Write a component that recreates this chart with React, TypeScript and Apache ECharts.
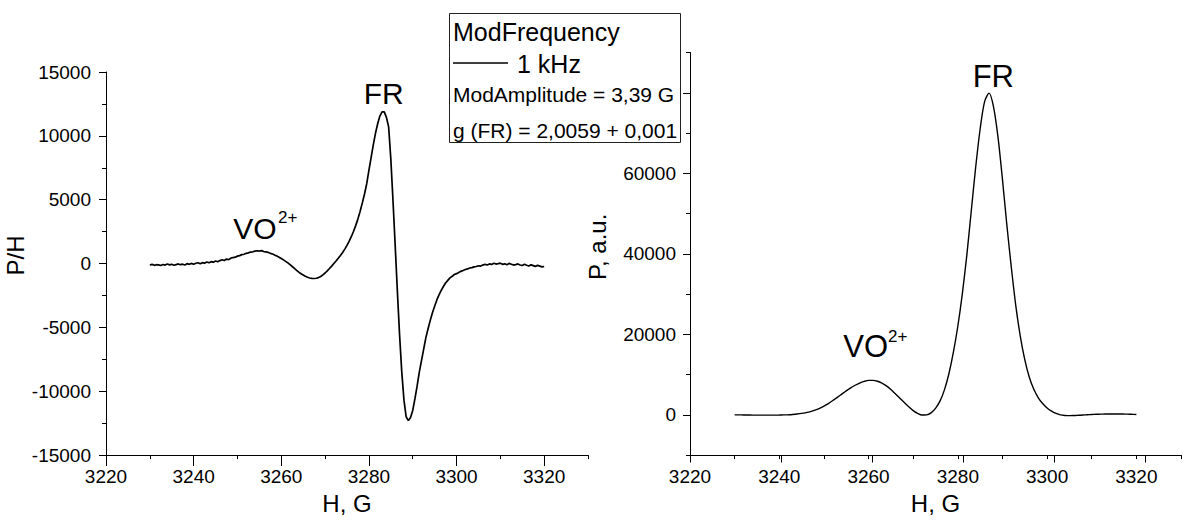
import React, { useEffect, useRef } from "react";
import * as echarts from "echarts";

const FONT = '"Liberation Sans", Arial, Helvetica, sans-serif';

// Field sampling (G)
const fieldMin = 3220;
const fieldMax = 3330;
const fieldMajorStep = 20;
const fieldMinorStep = 10;

// Left panel: first-derivative EPR signal P/H, sampled every 0.5 G from 3230 G
const derivStart = 3230;
const derivStep = 0.5;
const derivValues = [
  -110, -60, -140, -90, -100, -150, -70, -120, -40, -100,
  -60, -130, -80, -30, -90, -50, -110, -10, -60, 10,
  -50, 20, 60, -20, 70, 30, 120, 60, 150, 110,
  200, 140, 230, 300, 240, 350, 310, 420, 470, 500,
  580, 620, 700, 730, 800, 840, 900, 920, 970, 1000,
  980, 1010, 940, 920, 870, 800, 750, 660, 590, 500,
  400, 290, 170, 50, -90, -230, -380, -530, -670, -800,
  -900, -1000, -1070, -1130, -1160, -1170, -1150, -1100, -1010, -890,
  -740, -570, -390, -200, 0, 200, 410, 630, 870, 1130,
  1420, 1750, 2120, 2530, 2990, 3500, 4100, 4750, 5450, 6250,
  7300, 8300, 9300, 10200, 10950, 11550, 11880, 11880, 11450, 10700,
  8200, 4900, 1400, -2200, -5600, -8500, -10700, -12000, -12300, -12050,
  -11500, -10600, -9600, -8500, -7600, -6700, -5800, -5100, -4450, -3850,
  -3350, -2850, -2450, -2100, -1800, -1520, -1320, -1120, -1000, -860,
  -790, -700, -610, -540, -470, -420, -350, -320, -260, -230,
  -170, -200, -120, -60, -110, -30, -70, 20, -40, -10,
  30, -60, -20, -90, 10, -50, -120, -80, -30, -110,
  -150, -60, -130, -190, -100, -160, -220, -140, -200, -260,
  -230,
];

// Right panel: integrated absorption P (a.u.), sampled every 1 G from 3230 G
const absStart = 3230;
const absStep = 1;
const absValues = [
  0, -10, -30, -50, -60, -70, -80, -80, -80, -70,
  -50, -20, 30, 100, 200, 350, 550, 800, 1150, 1600,
  2150, 2800, 3550, 4350, 5150, 5950, 6700, 7350, 7900, 8300,
  8550, 8550, 8350, 7900, 7200, 6300, 5250, 4150, 3050, 2000,
  1050, 350, -50, 0, 500, 1600, 3400, 6200, 10200, 15500,
  22000, 30000, 39500, 50500, 61500, 71000, 77800, 79900, 76500, 69000,
  58500, 47000, 36500, 27000, 19500, 13700, 9400, 6400, 4300, 2800,
  1700, 900, 350, 0, -150, -200, -180, -120, -50, 20,
  80, 130, 170, 200, 220, 230, 220, 200, 170, 130,
  90,
];

// Axis ranges / ticks
const leftYMin = -15000;
const leftYMax = 15000;
const leftYStep = 5000;
const rightYMin = -10000;
const rightYMax = 90000;
const rightYMinorStep = 10000;
const rightYMajorStep = 20000;
const rightYLabelMax = 60000;

// Legend / annotation texts
const legendTitle = "ModFrequency";
const legendItem = "1 kHz";
const legendAmp = "ModAmplitude = 3,39 G";
const legendG = "g (FR) = 2,0059 + 0,001";

export default function App() {
  const ref = useRef<HTMLDivElement>(null);

  useEffect(() => {
    if (!ref.current) return;
    const chart = echarts.init(ref.current, null, { renderer: "svg" });

    const derivData = derivValues.map((v, i) => [derivStart + i * derivStep, v]);
    const absData = absValues.map((v, i) => [absStart + i * absStep, v]);

    const black = "#000";
    const axisLineStyle = { show: true, onZero: false, lineStyle: { color: black, width: 1 } };
    const labelStyle = { color: black, fontSize: 19, fontFamily: FONT };
    const nameStyle = { color: black, fontSize: 24, fontFamily: FONT };

    const hiddenAxis = (gridIndex: number) => ({
      gridIndex,
      type: "value",
      show: false,
      min: 0,
      max: 1,
    });

    const mainX = (gridIndex: number) => ({
      gridIndex,
      type: "value",
      min: fieldMin,
      max: fieldMax,
      interval: fieldMinorStep,
      axisLine: axisLineStyle,
      axisTick: { show: true, inside: false, length: 4, lineStyle: { color: black, width: 1 } },
      axisLabel: {
        ...labelStyle,
        margin: 12,
        formatter: (v: number) => (v % fieldMajorStep === 0 ? String(v) : ""),
      },
      splitLine: { show: false },
      name: "H, G",
      nameLocation: "middle",
      nameGap: 34,
      nameTextStyle: nameStyle,
    });

    const overlayX = (gridIndex: number) => ({
      gridIndex,
      type: "value",
      min: fieldMin,
      max: fieldMin + 5 * fieldMajorStep,
      interval: fieldMajorStep,
      axisLine: { show: false },
      axisTick: { show: true, inside: false, length: 7, lineStyle: { color: black, width: 1 } },
      axisLabel: { show: false },
      splitLine: { show: false },
    });

    const option = {
      animation: false,
      backgroundColor: "#fff",
      grid: [
        { left: 106, top: 72, width: 482, height: 387 },
        { left: 106, top: 72, width: 438.3, height: 387 },
        { left: 690, top: 52.5, width: 501, height: 403 },
        { left: 690, top: 52.5, width: 455.6, height: 403 },
        { left: 690, top: 92.8, width: 501, height: 322.4 },
      ],
      xAxis: [mainX(0), overlayX(1), mainX(2), overlayX(3), hiddenAxis(4)],
      yAxis: [
        {
          gridIndex: 0,
          type: "value",
          min: leftYMin,
          max: leftYMax,
          interval: leftYStep,
          axisLine: axisLineStyle,
          axisTick: { show: true, inside: false, length: 7, lineStyle: { color: black, width: 1 } },
          minorTick: { show: true, splitNumber: 2, length: 4, lineStyle: { color: black, width: 1 } },
          axisLabel: { ...labelStyle, margin: 15, formatter: (v: number) => String(v) },
          splitLine: { show: false },
          name: "P/H",
          nameLocation: "middle",
          nameGap: 68,
          nameTextStyle: { ...nameStyle, padding: [0, 0, 0, 16] },
        },
        hiddenAxis(1),
        {
          gridIndex: 2,
          type: "value",
          min: rightYMin,
          max: rightYMax,
          interval: rightYMinorStep,
          axisLine: axisLineStyle,
          axisTick: { show: true, inside: false, length: 4, lineStyle: { color: black, width: 1 } },
          axisLabel: {
            ...labelStyle,
            margin: 14,
            formatter: (v: number) =>
              v >= 0 && v <= rightYLabelMax && v % rightYMajorStep === 0 ? String(v) : "",
          },
          splitLine: { show: false },
          name: "P, a.u.",
          nameLocation: "middle",
          nameGap: 81,
          nameTextStyle: { ...nameStyle, padding: [0, 0, 0, 14] },
        },
        hiddenAxis(3),
        {
          gridIndex: 4,
          type: "value",
          min: 0,
          max: 4 * rightYMajorStep,
          interval: rightYMajorStep,
          axisLine: { show: false },
          axisTick: { show: true, inside: false, length: 7, lineStyle: { color: black, width: 1 } },
          axisLabel: { show: false },
          splitLine: { show: false },
        },
      ],
      series: [
        {
          type: "line",
          xAxisIndex: 0,
          yAxisIndex: 0,
          data: derivData,
          showSymbol: false,
          symbol: "none",
          lineStyle: { color: black, width: 1.7 },
          z: 3,
        },
        {
          type: "line",
          xAxisIndex: 2,
          yAxisIndex: 2,
          data: absData,
          showSymbol: false,
          symbol: "none",
          smooth: 0.3,
          lineStyle: { color: black, width: 1.4 },
          z: 3,
        },
      ],
      graphic: [
        {
          type: "rect",
          z: 100,
          shape: { x: 449.5, y: 13.5, width: 231, height: 129 },
          style: { fill: "#fff", stroke: "#222", lineWidth: 1 },
        },
        {
          type: "text",
          z: 101,
          x: 453,
          y: 31.5,
          style: { text: legendTitle, font: `25px ${FONT}`, fill: black, align: "left", verticalAlign: "middle" },
        },
        {
          type: "line",
          z: 101,
          shape: { x1: 453, y1: 63, x2: 508, y2: 63 },
          style: { stroke: black, lineWidth: 1.5 },
        },
        {
          type: "text",
          z: 101,
          x: 517,
          y: 63.5,
          style: { text: legendItem, font: `25px ${FONT}`, fill: black, align: "left", verticalAlign: "middle" },
        },
        {
          type: "text",
          z: 101,
          x: 453,
          y: 94.7,
          style: { text: legendAmp, font: `21px ${FONT}`, fill: black, align: "left", verticalAlign: "middle" },
        },
        {
          type: "text",
          z: 101,
          x: 453,
          y: 130.8,
          style: { text: legendG, font: `21px ${FONT}`, fill: black, align: "left", verticalAlign: "middle" },
        },
        // annotations, left panel
        {
          type: "text",
          z: 101,
          x: 383.7,
          y: 93.5,
          style: { text: "FR", font: `30px ${FONT}`, fill: black, align: "center", verticalAlign: "middle" },
        },
        {
          type: "text",
          z: 101,
          x: 233.3,
          y: 228.5,
          style: { text: "VO", font: `30px ${FONT}`, fill: black, align: "left", verticalAlign: "middle" },
        },
        {
          type: "text",
          z: 101,
          x: 278,
          y: 217.5,
          style: { text: "2+", font: `17px ${FONT}`, fill: black, align: "left", verticalAlign: "middle" },
        },
        // annotations, right panel
        {
          type: "text",
          z: 101,
          x: 993.3,
          y: 76,
          style: { text: "FR", font: `31px ${FONT}`, fill: black, align: "center", verticalAlign: "middle" },
        },
        {
          type: "text",
          z: 101,
          x: 843.3,
          y: 346,
          style: { text: "VO", font: `31px ${FONT}`, fill: black, align: "left", verticalAlign: "middle" },
        },
        {
          type: "text",
          z: 101,
          x: 888,
          y: 336,
          style: { text: "2+", font: `17px ${FONT}`, fill: black, align: "left", verticalAlign: "middle" },
        },
      ],
    };

    chart.setOption(option as any);
    return () => chart.dispose();
  }, []);

  return (
    <div
      ref={ref}
      style={{ position: "fixed", left: 0, top: 0, width: 1184, height: 520, background: "#fff" }}
    />
  );
}
